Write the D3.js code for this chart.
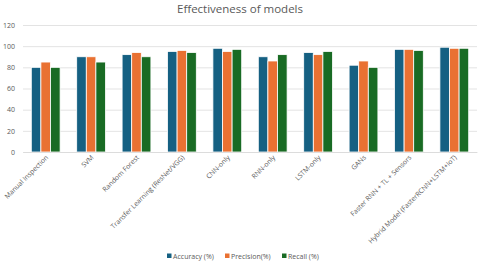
<!DOCTYPE html>
<html><head><meta charset="utf-8">
<script src="https://cdn.jsdelivr.net/npm/d3@7"></script>
<style>body{margin:0;background:#fff}svg{display:block;font-family:"Open Sans",Lato,sans-serif}</style>
</head><body><svg id="c" width="480" height="263"></svg>
<script>
const categories = ["Manual Inspection","SVM","Random Forest","Transfer Learning (ResNet/VGG)","CNN-only","RNN-only","LSTM-only","GANs","Faster RNN + TL + Sensors","Hybrid Model (FasterRCNN+LSTM+IoT)"];
const accuracy = [80,90,92,95,98,90,94,82,97,99];
const precision = [85,90,94,96,95,86,92,86,97,98];
const recall = [80,85,90,94,97,92,95,80,96,98];
const seriesNames = ["Accuracy (%)","Precision(%)","Recall (%)"];
const yTicks = [0,20,40,60,80,100,120];
const colors = ["#156082","#E97132","#196B24"];

(function(){
const svg = d3.select("#c");
const pl = 23, pr = 477, pt = 25, pb = 152;
const x = d3.scaleBand().domain(categories).range([pl,pr]).paddingInner(0).paddingOuter(0);
const y = d3.scaleLinear().domain([0,120]).range([pb,pt]);
const series = [accuracy,precision,recall];
const bw = 9.6, groupW = bw*3;

svg.append("text").attr("x",240).attr("y",13).attr("text-anchor","middle")
  .attr("font-size",11.5).attr("fill","#595959").text("Effectiveness of models");

const gy = svg.append("g").attr("transform",`translate(${pl},0)`)
  .call(d3.axisLeft(y).tickValues(yTicks).tickSize(-(pr-pl)).tickPadding(8));
gy.select(".domain").remove();
gy.selectAll(".tick line").attr("stroke","#d9d9d9").attr("stroke-width",0.75);
gy.selectAll(".tick text").attr("fill","#595959").attr("font-size",7).attr("font-family","Open Sans, sans-serif");

series.forEach((vals,si)=>{
  svg.append("g").selectAll("rect").data(categories).join("rect")
    .attr("x",d=>x(d)+x.bandwidth()/2-groupW/2+si*bw)
    .attr("width",bw)
    .attr("y",(d,i)=>y(vals[i]))
    .attr("height",(d,i)=>y(0)-y(vals[i]))
    .attr("fill",colors[si]).attr("stroke","#fff").attr("stroke-width",0.8);
});

const gx = svg.append("g").attr("transform",`translate(0,${pb})`)
  .call(d3.axisBottom(x).tickSize(0).tickPadding(0));
gx.select(".domain").attr("stroke","#d9d9d9").attr("stroke-width",0.75);
gx.selectAll(".tick text").attr("fill","#595959").attr("font-size",6.8).attr("font-family","Open Sans, sans-serif")
  .attr("text-anchor","end").attr("dy",null).attr("y",null)
  .attr("transform","translate(3,6) rotate(-45)");

const leg = svg.append("g").attr("font-size",7).attr("fill","#595959");
const lx = [167,225,282];
seriesNames.forEach((n,i)=>{
  leg.append("rect").attr("x",lx[i]).attr("y",253.5).attr("width",4.5).attr("height",4.5).attr("fill",colors[i]);
  leg.append("text").attr("x",lx[i]+6).attr("y",258.5).attr("fill","#595959").text(n);
});
})();
</script></body></html>
